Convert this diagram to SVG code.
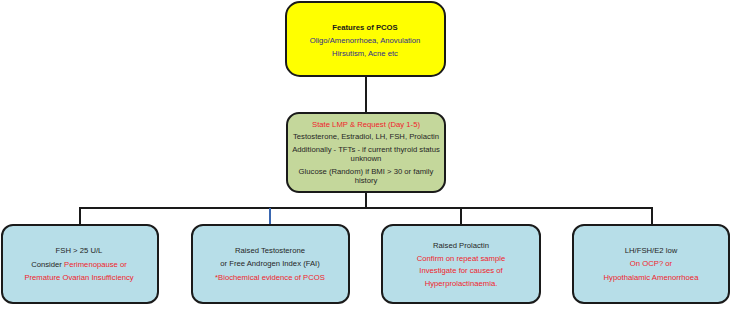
<svg xmlns="http://www.w3.org/2000/svg" width="731" height="324" viewBox="0 0 731 324">
<style>
text{font-family:"Liberation Sans",Arial,sans-serif;font-size:7.7px;text-anchor:middle;fill:#262626}
.r{fill:#F0242C}
.b{fill:#2E2E8C}
.t{font-weight:bold;fill:#1a1a1a}
.box{stroke:#1a1a1a;stroke-width:2}
.ln{stroke:#1a1a1a;stroke-width:2;fill:none}
</style>
<rect width="731" height="324" fill="#fff"/>
<g id="connectors">
<line class="ln" x1="366" y1="76" x2="366" y2="114"/>
<line class="ln" x1="366" y1="191" x2="366" y2="208"/>
<polyline class="ln" points="80,225 80,208 652,208 652,225"/>
<line class="ln" x1="461" y1="208" x2="461" y2="225"/>
<line x1="270" y1="208" x2="270" y2="225" stroke="#3A67B0" stroke-width="2"/>
</g>
<g id="features">
<rect class="box" x="286" y="2" width="159" height="74" rx="14" fill="#FFFF00"/>
<text class="t" x="365" y="30">Features of PCOS</text>
<text class="b" x="365" y="43">Oligo/Amenorrhoea, Anovulation</text>
<text class="b" x="365" y="56">Hirsutism, Acne etc</text>
</g>
<g id="request">
<rect class="box" x="287" y="113" width="158" height="79" rx="12" fill="#C4D79B"/>
<text class="r" x="366" y="126.5">State LMP &amp; Request (Day 1-5)</text>
<text x="366" y="138.5">Testosterone, Estradiol, LH, FSH, Prolactin</text>
<text x="366" y="151.5">Additionally - TFTs - if current thyroid status</text>
<text x="366" y="160.5">unknown</text>
<text x="366" y="173.5">Glucose (Random) if BMI &gt; 30 or family</text>
<text x="366" y="182.5">history</text>
</g>
<g id="fsh">
<rect class="box" x="2" y="225" width="156" height="78" rx="11" fill="#B7DEE8"/>
<text x="79" y="252.5">FSH &gt; 25 U/L</text>
<text x="79" y="266.5">Consider <tspan class="r">Perimenopause or</tspan></text>
<text class="r" x="79" y="279.5">Premature Ovarian Insufficiency</text>
</g>
<g id="testosterone">
<rect class="box" x="192" y="225" width="157" height="78" rx="11" fill="#B7DEE8"/>
<text x="270" y="252.5">Raised Testosterone</text>
<text x="270" y="265.5">or Free Androgen Index (FAI)</text>
<text class="r" x="270" y="279.5">*Biochemical evidence of PCOS</text>
</g>
<g id="prolactin">
<rect class="box" x="382" y="225" width="158" height="78" rx="11" fill="#B7DEE8"/>
<text x="461" y="247.5">Raised Prolactin</text>
<text class="r" x="461" y="260.5">Confirm on repeat sample</text>
<text class="r" x="461" y="272.5">Investigate for causes of</text>
<text class="r" x="461" y="285.5">Hyperprolactinaemia.</text>
</g>
<g id="lowlh">
<rect class="box" x="573" y="225" width="156" height="78" rx="11" fill="#B7DEE8"/>
<text x="651" y="252.5">LH/FSH/E2 low</text>
<text class="r" x="651" y="265.5">On OCP? or</text>
<text class="r" x="651" y="279.5">Hypothalamic Amenorrhoea</text>
</g>
</svg>
